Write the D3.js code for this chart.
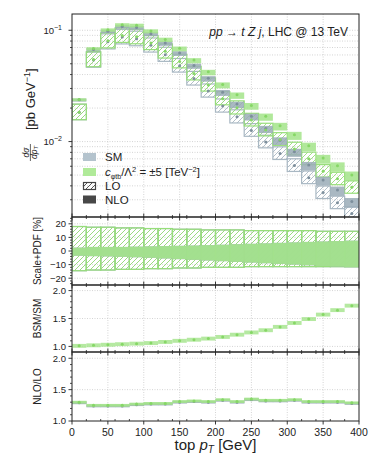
<!DOCTYPE html>
<html>
<head>
<meta charset="utf-8">
<script src="https://cdn.jsdelivr.net/npm/d3@7"></script>
<style>
body { margin: 0; background: #fff; }
svg { font-family: "Liberation Sans", Arial, sans-serif; }
</style>
</head>
<body>
<div id="vis"></div>
<script>
// bins in top pT [GeV]
var binLow = [0,20,40,60,80,100,120,140,160,180,200,220,240,260,280,300,320,340,360,380];
var binWidth = 20;

// d sigma / d pT [pb/GeV]
var smNLO  = [0.0237,0.0671,0.0980,0.1080,0.1057,0.0930,0.0767,0.0625,0.0482,0.0371,0.0278,0.0217,0.0169,0.0131,0.0103,0.0081,0.00615,0.00452,0.00367,0.00289];
var bsmNLO = [0.0239,0.0684,0.1009,0.1123,0.1110,0.0986,0.0828,0.0688,0.0540,0.0423,0.0325,0.0263,0.0211,0.0169,0.0139,0.0115,0.00916,0.0071,0.00606,0.0050];
var smLO   = [0.01837,0.0541,0.0790,0.0871,0.0839,0.0732,0.0604,0.0481,0.0368,0.0285,0.0209,0.0167,0.0126,0.00992,0.0078,0.00609,0.00473,0.00348,0.00282,0.00226];
var bsmLO  = [0.01838,0.0547,0.0807,0.0898,0.0874,0.0770,0.0647,0.0525,0.0409,0.0323,0.0243,0.0201,0.0156,0.0127,0.01045,0.00858,0.00699,0.00542,0.00463,0.00388];

// scale+PDF uncertainty [%]
var loUp  = [18,17.5,17.5,17,17,16.5,16.5,16,16,15.5,15.5,15.5,15,15,15,15,15,14.5,14.5,14.5];
var loDn  = [14.5,14,14,13.5,13.5,13,13,12.5,12.5,12,12,12,11.5,11.5,11.5,11.5,11.5,11.5,11.5,11.5];
var nloUp = [2.5,3,3,3,3.2,3.4,3.6,3.8,4,4.3,4.6,5,5.3,5.6,6,6.3,6.7,7,7.3,7.6];
var nloDn = [3.5,3.8,4,4.3,4.6,5,5.5,6,6.5,7,7.5,8,8.5,9,9.5,10,10.5,11,11.5,12];

// ratios
var bsmRatio = [1.01,1.02,1.03,1.04,1.05,1.06,1.08,1.10,1.12,1.14,1.17,1.21,1.25,1.29,1.35,1.42,1.49,1.57,1.65,1.73];
var kSM  = [1.29,1.24,1.24,1.24,1.26,1.27,1.27,1.30,1.31,1.30,1.33,1.30,1.34,1.32,1.32,1.33,1.30,1.30,1.30,1.28];
var kBSM = [1.30,1.25,1.25,1.25,1.27,1.28,1.28,1.31,1.32,1.31,1.34,1.31,1.35,1.33,1.33,1.34,1.31,1.31,1.31,1.29];

// ticks
var xTicks = [0,50,100,150,200,250,300,350,400];
var xMinor = [20,40,60,80,120,140,160,180,220,240,260,280,320,340,360,380];
var mainTicks = [0.1, 0.01];
var mainTickExp = ['\u22121', '\u22122'];
var scaleTicks = [-20,-10,0,10,20];
var scaleMinor = [-24,-22,-18,-16,-14,-12,-8,-6,-4,-2,2,4,6,8,12,14,16,18,22,24];
var ratioTicks = [1.0,1.5,2.0];
var bsmMinor = [1.1,1.2,1.3,1.4,1.6,1.7,1.8,1.9];
var kMinor = [1.1,1.2,1.3,1.4,1.6,1.7,1.8,1.9];

var width = 374, height = 475;
var left = 72, right = 359;

var smEdge = '#a9b8c3', smBand = '#9aabb7', smDot = '#7d8f9c';
var bsmEdge = '#97de7a', bsmBand = '#a3e489', bsmDot = '#86d766';
var gridCol = '#c9c9c9';

var svg = d3.select('#vis').append('svg')
            .attr('width', width)
            .attr('height', height);

var defs = svg.append('defs');
function hatch(id, col) {
    var p = defs.append('pattern')
                .attr('id', id)
                .attr('patternUnits', 'userSpaceOnUse')
                .attr('width', 5).attr('height', 5);
    p.append('path')
     .attr('d', 'M0,5 L5,0 M-1,1 L1,-1 M4,6 L6,4')
     .attr('stroke', col)
     .attr('stroke-width', 0.9);
}
hatch('hSM', smEdge);
hatch('hBSM', bsmEdge);
hatch('hDark', '#444');

var x = d3.scaleLinear().domain([0, 400]).range([left, right]);

var panels = {
    main:  {top: 14,  bottom: 217},
    scale: {top: 217, bottom: 285},
    bsm:   {top: 285, bottom: 352},
    nlo:   {top: 352, bottom: 421}
};

var yMain  = d3.scaleLog().domain([0.0021, 0.14]).range([217, 14]);
var yScale = d3.scaleLinear().domain([-25, 25]).range([285, 217]);
var yBsm   = d3.scaleLinear().domain([0.9, 2.1]).range([352, 285]);
var yK     = d3.scaleLinear().domain([1.0, 2.1]).range([421, 352]);

// clip paths
Object.keys(panels).forEach(function(k) {
    var p = panels[k];
    defs.append('clipPath').attr('id', 'clip-' + k)
        .append('rect')
        .attr('x', left).attr('y', p.top)
        .attr('width', right - left).attr('height', p.bottom - p.top);
});

function grid(p, yVals, yScaleF) {
    var g = svg.append('g');
    g.selectAll('.vg').data(xTicks.slice(1, -1)).enter().append('line')
     .attr('x1', function(d) { return x(d); }).attr('x2', function(d) { return x(d); })
     .attr('y1', p.top).attr('y2', p.bottom)
     .attr('stroke', gridCol).attr('stroke-width', 0.8).attr('stroke-dasharray', '1,1.5');
    g.selectAll('.hg').data(yVals).enter().append('line')
     .attr('x1', left).attr('x2', right)
     .attr('y1', function(d) { return yScaleF(d); }).attr('y2', function(d) { return yScaleF(d); })
     .attr('stroke', gridCol).attr('stroke-width', 0.8).attr('stroke-dasharray', '1,1.5');
}

grid(panels.main, yMain.ticks().filter(function(d) { return d > 0.0021 && d < 0.14; }), yMain);
grid(panels.scale, scaleTicks, yScale);
grid(panels.bsm, ratioTicks, yBsm);
grid(panels.nlo, ratioTicks.slice(1), yK);

// ---- main panel ----
var gm = svg.append('g').attr('clip-path', 'url(#clip-main)');

function loBoxes(data, fillId, edge) {
    gm.selectAll(null).data(data).enter().append('rect')
      .attr('x', function(d, i) { return x(binLow[i]); })
      .attr('width', x(binWidth) - x(0))
      .attr('y', function(d, i) { return yMain(d * (1 + loUp[i] / 100)); })
      .attr('height', function(d, i) { return yMain(d * (1 - loDn[i] / 100)) - yMain(d * (1 + loUp[i] / 100)); })
      .attr('fill', 'url(#' + fillId + ')')
      .attr('stroke', edge).attr('stroke-width', 1.2);
}
function nloBands(data, col) {
    gm.selectAll(null).data(data).enter().append('rect')
      .attr('x', function(d, i) { return x(binLow[i]); })
      .attr('width', x(binWidth) - x(0))
      .attr('y', function(d, i) { return yMain(d * (1 + nloUp[i] / 100)); })
      .attr('height', function(d, i) { return yMain(d * (1 - nloDn[i] / 100)) - yMain(d * (1 + nloUp[i] / 100)); })
      .attr('fill', col).attr('opacity', 0.85);
}
function dots(g, data, yF, col) {
    g.selectAll(null).data(data).enter().append('circle')
     .attr('cx', function(d, i) { return x(binLow[i] + binWidth / 2); })
     .attr('cy', function(d) { return yF(d); })
     .attr('r', 1.5).attr('fill', col);
}

loBoxes(smLO, 'hSM', smEdge);
loBoxes(bsmLO, 'hBSM', bsmEdge);
nloBands(smNLO, smBand);
nloBands(bsmNLO, bsmBand);
dots(gm, smLO, yMain, smDot);
dots(gm, smNLO, yMain, smDot);
dots(gm, bsmLO, yMain, bsmDot);
dots(gm, bsmNLO, yMain, bsmDot);

// ---- scale+PDF panel ----
var gs = svg.append('g').attr('clip-path', 'url(#clip-scale)');
[['hSM', smEdge, smBand], ['hBSM', bsmEdge, bsmBand]].forEach(function(c) {
    gs.selectAll(null).data(loUp).enter().append('rect')
      .attr('x', function(d, i) { return x(binLow[i]); })
      .attr('width', x(binWidth) - x(0))
      .attr('y', function(d) { return yScale(d); })
      .attr('height', function(d, i) { return yScale(-loDn[i]) - yScale(d); })
      .attr('fill', 'url(#' + c[0] + ')')
      .attr('stroke', c[1]).attr('stroke-width', 1.2);
});
[smBand, bsmBand].forEach(function(col) {
    gs.selectAll(null).data(nloUp).enter().append('rect')
      .attr('x', function(d, i) { return x(binLow[i]); })
      .attr('width', x(binWidth) - x(0) + 0.5)
      .attr('y', function(d) { return yScale(d); })
      .attr('height', function(d, i) { return yScale(-nloDn[i]) - yScale(d); })
      .attr('fill', col).attr('opacity', 0.9);
});

// ---- BSM/SM panel ----
var gb = svg.append('g').attr('clip-path', 'url(#clip-bsm)');
gb.selectAll(null).data(bsmRatio).enter().append('rect')
  .attr('x', function(d, i) { return x(binLow[i]); })
  .attr('width', x(binWidth) - x(0))
  .attr('y', function(d) { return yBsm(d + 0.035); })
  .attr('height', yBsm(0) - yBsm(0.07))
  .attr('fill', bsmBand).attr('opacity', 0.8);
dots(gb, bsmRatio, yBsm, bsmDot);

// ---- NLO/LO panel ----
var gk = svg.append('g').attr('clip-path', 'url(#clip-nlo)');
[[kSM, smBand, smDot], [kBSM, bsmBand, bsmDot]].forEach(function(c) {
    gk.selectAll(null).data(c[0]).enter().append('rect')
      .attr('x', function(d, i) { return x(binLow[i]); })
      .attr('width', x(binWidth) - x(0) + 0.3)
      .attr('y', function(d) { return yK(d + 0.022); })
      .attr('height', yK(0) - yK(0.044))
      .attr('fill', c[1]).attr('opacity', 0.9);
    dots(gk, c[0], yK, c[2]);
});

// ---- frames and ticks ----
Object.keys(panels).forEach(function(k) {
    var p = panels[k];
    svg.append('rect')
       .attr('x', left).attr('y', p.top)
       .attr('width', right - left).attr('height', p.bottom - p.top)
       .attr('fill', 'none').attr('stroke', '#222').attr('stroke-width', 1);
    var last = (k === 'nlo');
    // bottom edge ticks
    svg.selectAll(null).data(xTicks).enter().append('line')
       .attr('x1', function(d) { return x(d); }).attr('x2', function(d) { return x(d); })
       .attr('y1', p.bottom).attr('y2', last ? p.bottom + 3.5 : p.bottom - 3.5)
       .attr('stroke', '#222').attr('stroke-width', 0.9);
    svg.selectAll(null).data(xMinor).enter().append('line')
       .attr('x1', function(d) { return x(d); }).attr('x2', function(d) { return x(d); })
       .attr('y1', p.bottom).attr('y2', p.bottom - 2)
       .attr('stroke', '#222').attr('stroke-width', 0.8);
    if (k !== 'main') {
        svg.selectAll(null).data(xTicks).enter().append('line')
           .attr('x1', function(d) { return x(d); }).attr('x2', function(d) { return x(d); })
           .attr('y1', p.top).attr('y2', p.top + 3.5)
           .attr('stroke', '#222').attr('stroke-width', 0.9);
        svg.selectAll(null).data(xMinor).enter().append('line')
           .attr('x1', function(d) { return x(d); }).attr('x2', function(d) { return x(d); })
           .attr('y1', p.top).attr('y2', p.top + 2)
           .attr('stroke', '#222').attr('stroke-width', 0.8);
    }
});

function yAxisTicks(vals, minor, yF, fmt) {
    svg.selectAll(null).data(vals).enter().append('line')
       .attr('x1', left - 3.5).attr('x2', left)
       .attr('y1', function(d) { return yF(d); }).attr('y2', function(d) { return yF(d); })
       .attr('stroke', '#222').attr('stroke-width', 0.9);
    svg.selectAll(null).data(minor).enter().append('line')
       .attr('x1', left - 2).attr('x2', left)
       .attr('y1', function(d) { return yF(d); }).attr('y2', function(d) { return yF(d); })
       .attr('stroke', '#222').attr('stroke-width', 0.8);
    if (fmt) {
        svg.selectAll(null).data(vals).enter().append('text')
           .attr('x', left - 6).attr('y', function(d) { return yF(d); })
           .attr('dy', '0.35em').attr('text-anchor', 'end')
           .attr('font-size', 9.5).attr('fill', '#222')
           .text(fmt);
    }
}

var logMinor = yMain.ticks().filter(function(d) { return d > 0.0021 && d < 0.14 && mainTicks.indexOf(d) < 0; });
yAxisTicks(mainTicks, logMinor, yMain, null);
mainTicks.forEach(function(v, i) {
    var t = svg.append('text')
               .attr('x', left - 10).attr('y', yMain(v)).attr('dy', '0.35em')
               .attr('text-anchor', 'end').attr('font-size', 9.5).attr('fill', '#222');
    t.append('tspan').text('10');
    t.append('tspan').attr('dy', -4).attr('font-size', 7).text(mainTickExp[i]);
});
yAxisTicks(scaleTicks, scaleMinor, yScale, function(d) { return d < 0 ? '\u2212' + (-d) : d; });
yAxisTicks(ratioTicks, bsmMinor, yBsm, function(d) { return d.toFixed(1); });
yAxisTicks(ratioTicks, kMinor, yK, function(d) { return d.toFixed(1); });

// x tick labels
svg.selectAll(null).data(xTicks).enter().append('text')
   .attr('x', function(d) { return x(d); }).attr('y', 435.5)
   .attr('text-anchor', 'middle').attr('font-size', 10.5).attr('fill', '#222')
   .text(function(d) { return d; });

// x label
var xl = svg.append('text').attr('x', x(200)).attr('y', 450)
            .attr('text-anchor', 'middle').attr('font-size', 15).attr('fill', '#222');
xl.append('tspan').text('top ');
xl.append('tspan').attr('font-style', 'italic').text('p');
xl.append('tspan').attr('font-style', 'italic').attr('font-size', 10).attr('dy', 3).text('T');
xl.append('tspan').attr('dy', -3).text(' [GeV]');

// main y label
var yl = svg.append('g').attr('transform', 'translate(35,118) rotate(-90)');
yl.append('text').attr('x', -34.5).attr('y', -6).attr('text-anchor', 'middle')
  .attr('font-size', 8.5).attr('font-style', 'italic').attr('fill', '#222').text('d\u03c3');
yl.append('line').attr('x1', -43).attr('x2', -26).attr('y1', -4.6).attr('y2', -4.6)
  .attr('stroke', '#222').attr('stroke-width', 0.7);
var den = yl.append('text').attr('x', -34.5).attr('y', 1.5).attr('text-anchor', 'middle')
            .attr('font-size', 8.5).attr('font-style', 'italic').attr('fill', '#222');
den.append('tspan').text('dp');
den.append('tspan').attr('font-size', 6).attr('dy', 1.5).text('T');
var yt = yl.append('text').attr('x', -12).attr('y', 0).attr('font-size', 13).attr('fill', '#222');
yt.append('tspan').text('[pb GeV');
yt.append('tspan').attr('font-size', 9).attr('dy', -5).text('\u22121');
yt.append('tspan').attr('dy', 5).text(']');

// ratio y labels
[['Scale+PDF [%]', 251], ['BSM/SM', 318.5], ['NLO/LO', 386.5]].forEach(function(l) {
    svg.append('text')
       .attr('transform', 'translate(41,' + l[1] + ') rotate(-90)')
       .attr('text-anchor', 'middle').attr('font-size', 10).attr('fill', '#222')
       .text(l[0]);
});

// process label
var tl = svg.append('text').attr('x', 348).attr('y', 35.5)
            .attr('text-anchor', 'end').attr('font-size', 12).attr('fill', '#222');
tl.append('tspan').attr('font-style', 'italic').text('pp');
tl.append('tspan').text(' \u2192 ');
tl.append('tspan').attr('font-style', 'italic').text('t Z j');
tl.append('tspan').text(', LHC @ 13 TeV');

// legend
var legendRows = [157, 172, 186, 199.5];
var lg = svg.append('g');
lg.append('rect').attr('x', 83).attr('y', legendRows[0] - 4).attr('width', 13).attr('height', 8).attr('fill', '#b4c3cd');
lg.append('rect').attr('x', 83).attr('y', legendRows[1] - 4).attr('width', 13).attr('height', 8).attr('fill', '#b0ea99');
lg.append('rect').attr('x', 83.5).attr('y', legendRows[2] - 3.5).attr('width', 12).attr('height', 7)
  .attr('fill', 'url(#hDark)').attr('stroke', '#444').attr('stroke-width', 1.2);
lg.append('rect').attr('x', 83).attr('y', legendRows[3] - 4).attr('width', 13).attr('height', 8).attr('fill', '#474747');

function legText(row) {
    return lg.append('text').attr('x', 105).attr('y', legendRows[row]).attr('dy', '0.36em')
             .attr('font-size', 11.5).attr('fill', '#222');
}
legText(0).text('SM');
var lc = legText(1);
lc.append('tspan').attr('font-style', 'italic').text('c');
lc.append('tspan').attr('font-size', 7).attr('dy', 2.5).text('\u03c6tb');
lc.append('tspan').attr('dy', -2.5).text('/\u039b');
lc.append('tspan').attr('font-size', 7.5).attr('dy', -4).text('2');
lc.append('tspan').attr('dy', 4).text(' = \u00b15 [TeV');
lc.append('tspan').attr('font-size', 7.5).attr('dy', -4).text('\u22122');
lc.append('tspan').attr('dy', 4).text(']');
legText(2).text('LO');
legText(3).text('NLO');
</script>
</body>
</html>
